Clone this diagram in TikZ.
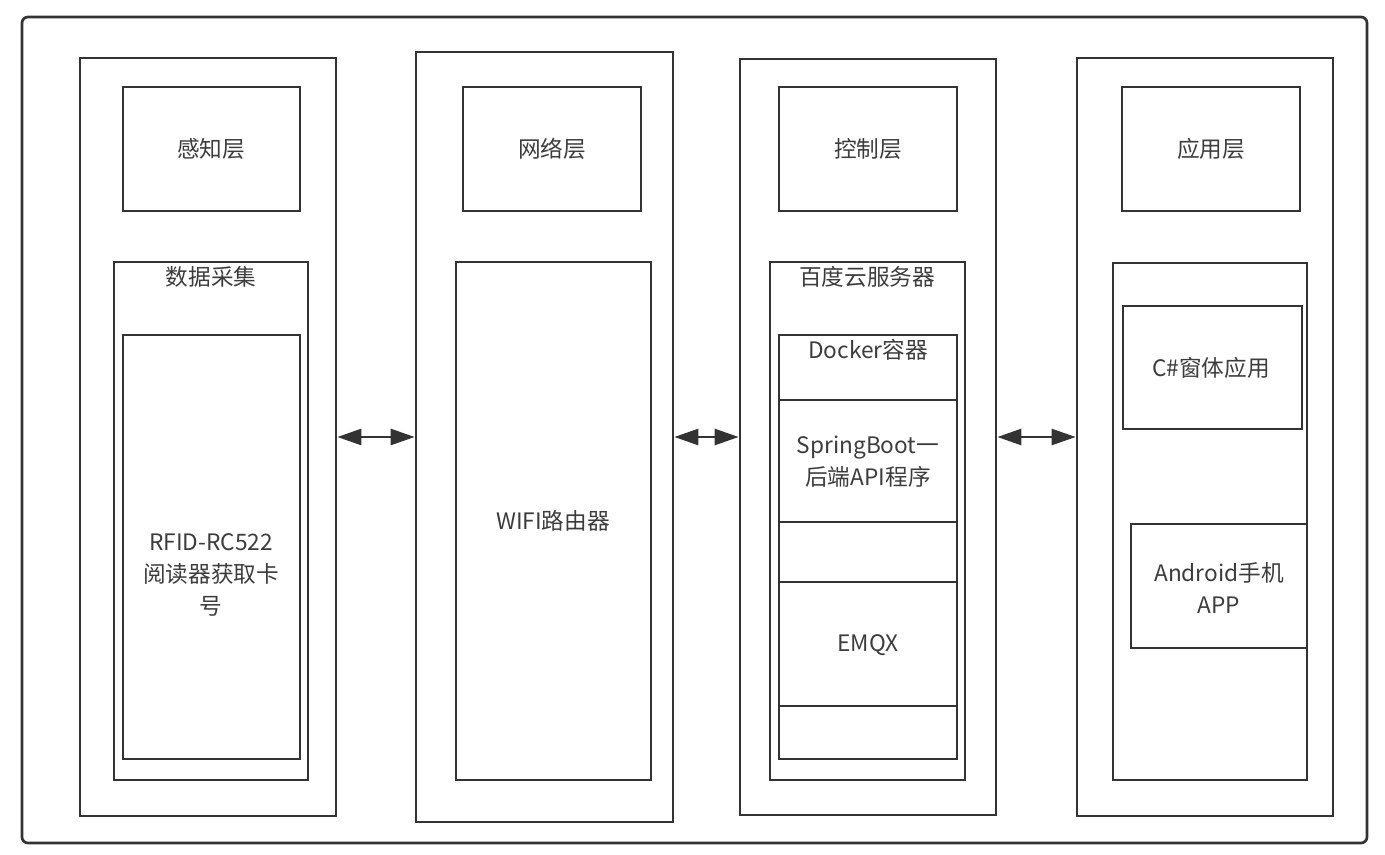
\documentclass[tikz,border=0pt]{standalone}
\usepackage{fontspec}
\setmainfont{Noto Sans CJK SC}
\usetikzlibrary{arrows.meta,fit}
\definecolor{linegray}{RGB}{51,51,51}
\definecolor{textgray}{RGB}{60,60,60}

\tikzset{every picture/.style={line width=2pt}}
\tikzset{
  box/.style={draw=linegray, inner sep=0pt},
  lbl/.style={text=textgray, inner sep=0.75pt, align=center, font=\fontsize{17}{24}\selectfont},
  link/.style={draw=linegray, {Triangle[length=18pt,width=12pt]}-{Triangle[length=18pt,width=12pt]}},
}

\begin{document}
\begin{tikzpicture}[x=0.75pt,y=0.75pt,yscale=-1]
\useasboundingbox (0,0) rectangle (1385,855);

%Rounded Rect: outer frame
\draw [draw=linegray, rounded corners=4.5pt] (22,17) rectangle (1367,843);

%Shape: Rectangle - layer columns
\node [box, fit={(80,58) (336,816)}] (sense) {};
\node [box, fit={(416,52) (673,822)}] (net) {};
\node [box, fit={(740,59) (996,815)}] (ctrl) {};
\node [box, fit={(1077,58) (1333,816)}] (app) {};

%Shape: Rectangle - layer titles
\node [box, fit={(123,87) (300,211)}] (senseHead) {};
\node [box, fit={(463,87) (641,211)}] (netHead) {};
\node [box, fit={(779,87) (957,211)}] (ctrlHead) {};
\node [box, fit={(1122,87) (1300,211)}] (appHead) {};

%Shape: Rectangle - perception
\node [box, fit={(114,262) (308,780)}] (collect) {};
\node [box, fit={(123,335) (300,759)}] (rfid) {};

%Shape: Rectangle - network
\node [box, fit={(456,262) (651,780)}] (wifi) {};

%Shape: Rectangle - control
\node [box, fit={(770,262) (965,780)}] (cloud) {};
\node [box, fit={(779,335) (957,400)}] (docker) {};
\node [box, fit={(779,400) (957,522)}] (spring) {};
\node [box, fit={(779,522) (957,582)}] (gapA) {};
\node [box, fit={(779,582) (957,706)}] (emqx) {};
\node [box, fit={(779,706) (957,759)}] (gapB) {};

%Shape: Rectangle - application
\node [box, fit={(1113,263) (1307,780)}] (client) {};
\node [box, fit={(1123,306) (1302,429)}] (winform) {};
\node [box, fit={(1131,524) (1307,648)}] (android) {};

%Straight Lines - links between layers
\draw [link] (sense.east) -- (net.west);
\draw [link] (net.east) -- (ctrl.west);
\draw [link] (ctrl.east) -- (app.west);

% Text Node
\node [lbl] (senseTxt) at (211,149) {感知层};
% Text Node
\node [lbl] (netTxt) at (552,149) {网络层};
% Text Node
\node [lbl] (ctrlTxt) at (868,149) {控制层};
% Text Node
\node [lbl] (appTxt) at (1211,149) {应用层};
% Text Node
\node [lbl] (collectTxt) at (211,277) {数据采集};
% Text Node
\node [lbl] (rfidTxt) at (211,575) {RFID-RC522\\阅读器获取卡\\号};
% Text Node
\node [lbl] (wifiTxt) at (553,521) {WIFI路由器};
% Text Node
\node [lbl] (cloudTxt) at (867,277) {百度云服务器};
% Text Node
\node [lbl] (dockerTxt) at (868,350) {Docker容器};
% Text Node
\node [lbl] (springTxt) at (868,462) {SpringBoot一\\后端API程序};
% Text Node
\node [lbl] (emqxTxt) at (868,645) {EMQX};
% Text Node
\node [lbl] (winformTxt) at (1211,368) {C\#窗体应用};
% Text Node
\node [lbl] (androidTxt) at (1219,588) {Android手机\\APP};

\end{tikzpicture}
\end{document}
